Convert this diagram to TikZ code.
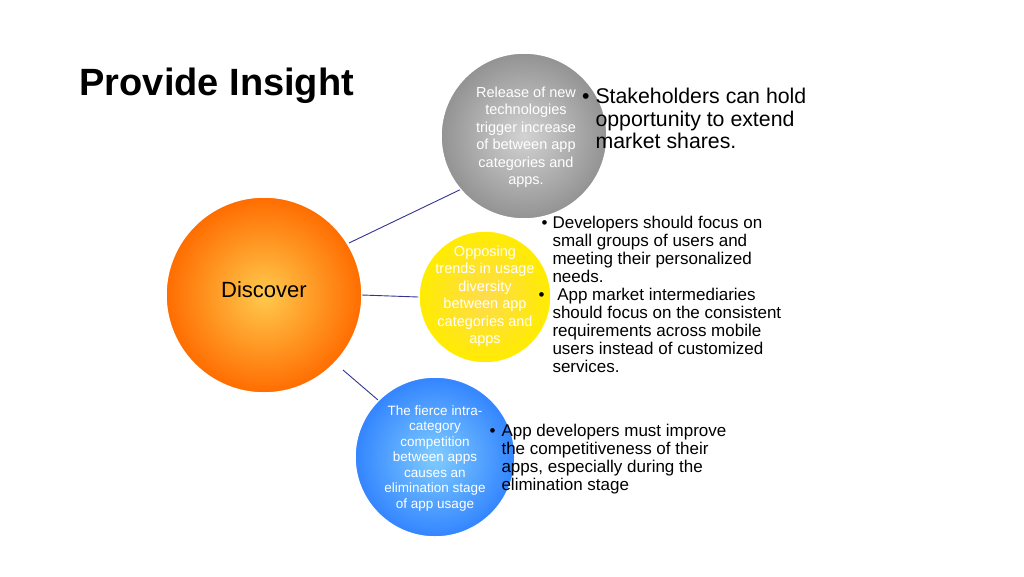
\documentclass[tikz,border=0pt]{standalone}
\usepackage{fontspec}
\setmainfont{Liberation Sans}
\begin{document}
\begin{tikzpicture}[x=1pt,y=-1pt,
  circ/.style={circle,draw=white,line width=1.5pt,align=center,inner sep=0pt},
  conn/.style={draw=black!35!blue!60!gray,line width=0.9pt},
  ctext/.style={font=\fontsize{14.5}{17.5}\selectfont,text=white,align=center},
  btext/.style={font=\fontsize{17}{18}\selectfont,align=left,anchor=north west}]
\useasboundingbox (0,0) rectangle (1024,576);
\fill[white] (0,0) rectangle (1024,576);
\node[font=\fontsize{38}{40}\selectfont\bfseries,anchor=west] (title) at (76,86) {Provide Insight};
% circles
\node[circ,minimum size=196pt,inner color=orange!60!yellow!70!white,outer color=orange!85!red] (disc) at (264,295) {};
\node[font=\fontsize{22}{24}\selectfont] (disctext) at (264,290) {Discover};
\node[circ,minimum size=166pt,inner color=gray!35,outer color=gray!85] (gray) at (524,136) {};
\node[ctext] (graytext) at (526,137) {Release of new\\technologies\\trigger increase\\of between app\\categories and\\apps.};
\node[circ,minimum size=132pt,inner color=yellow!60!orange!70,outer color=yellow!85!orange] (yel) at (485,297) {};
\node[ctext] (yeltext) at (485,296) {Opposing\\trends in usage\\diversity\\between app\\categories and\\apps};
\node[circ,minimum size=160pt,inner color=cyan!60!blue!50,outer color=blue!60!cyan!80] (blue) at (435,457) {};
\node[ctext,font=\fontsize{13.5}{15.5}\selectfont] (bluetext) at (435,458) {The fierce intra-\\category\\competition\\between apps\\causes an\\elimination stage\\of app usage};
% connectors
\coordinate (c1) at (349,243); \coordinate (c2) at (362,295); \coordinate (c3) at (343,370);
\draw[conn] (c1) -- (gray.220);
\draw[conn] (c2) -- (yel.west);
\draw[conn] (c3) -- (blue.135);
% bullet texts
\node[btext,font=\fontsize{21.3}{22.5}\selectfont] (b1) at (592,85) {\llap{•\hspace{6pt}}Stakeholders can hold\\opportunity to extend\\market shares.};
\node[btext] (b2) at (549,213) {\llap{•\hspace{5pt}}Developers should focus on\\small groups of users and\\meeting their personalized\\needs.\\\llap{•\hspace{8pt}} App market intermediaries\\should focus on the consistent\\requirements across mobile\\users instead of customized\\services.};
\node[btext] (b3) at (498,421) {\llap{•\hspace{6pt}}App developers must improve\\the competitiveness of their\\apps, especially during the\\elimination stage};
\end{tikzpicture}
\end{document}
